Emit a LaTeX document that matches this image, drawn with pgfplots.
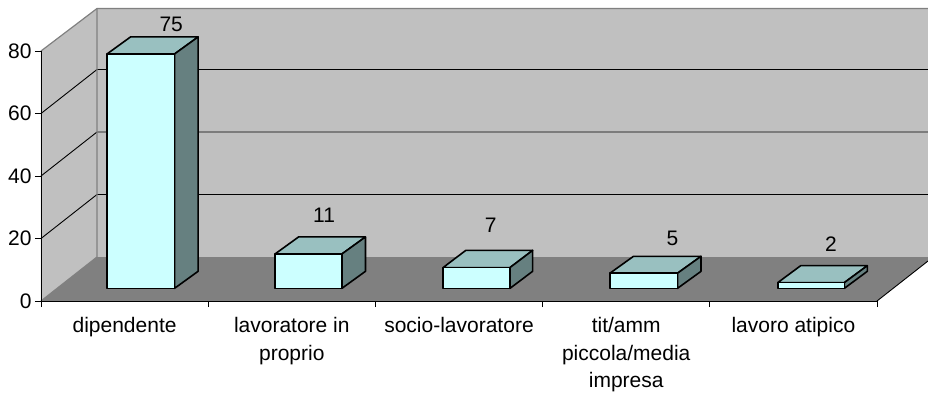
\documentclass[border=0pt]{standalone}
\usepackage{fontspec}
\setmainfont{Liberation Sans}
\usepackage{pgfplots}
\pgfplotsset{compat=1.18}

\definecolor{wall}{HTML}{C0C0C0}
\definecolor{floorc}{HTML}{808080}
\definecolor{front}{HTML}{CCFFFF}
\definecolor{topc}{HTML}{99C0C0}
\definecolor{sidec}{HTML}{668080}

% one 3D bar: x left, x right, x back left, x back right, y top, y back top
\newcommand{\barbox}[6]{
  \addplot[draw=black,line width=1.6pt,fill=topc,line join=round] coordinates {(#1,#5) (#3,#6) (#4,#6) (#2,#5)} --cycle;
  \addplot[draw=black,line width=1.6pt,fill=sidec,line join=round] coordinates {(#2,#5) (#4,#6) (#4,9.5) (#2,4.06)} --cycle;
  \addplot[draw=black,line width=1.6pt,fill=front,line join=round] coordinates {(#1,4.06) (#1,#5) (#2,#5) (#2,4.06)} --cycle;
}

\begin{document}
\begin{tikzpicture}
\path[use as bounding box] (-41pt,-93pt) rectangle (887pt,301pt);
\begin{axis}[
    at={(0pt,0pt)},
    anchor=south west,
    scale only axis,
    width=836pt,
    height=250pt,
    xmin=0, xmax=5,
    ymin=0, ymax=80,
    clip=false,
    axis on top,
    axis x line=bottom,
    axis y line=left,
    axis line style={-,black,line width=0.9pt},
    tick align=outside,
    major tick length=6pt,
    minor tick length=6pt,
    xtick={0.5,1.5,2.5,3.5,4.5},
    minor xtick={0,1,2,3,4,5},
    major x tick style={draw=none},
    minor x tick style={black,line width=0.9pt},
    y tick style={black,line width=0.9pt},
    ytick={0,20,40,60,80},
    xticklabels={dipendente,{lavoratore in\\proprio},socio-lavoratore,{tit/amm\\piccola/media\\impresa},lavoro atipico},
    xticklabel style={align=center,anchor=north,font=\fontsize{21}{27.5}\selectfont},
    x tick label style={yshift=-7pt},
    yticklabel style={font=\fontsize{21}{24}\selectfont},
    /pgf/number format/assume math mode=true,
]
% walls and floor
\addplot[draw=none,fill=wall] coordinates {(0,0) (0.335,14.08) (0.335,93.6) (0,80)} --cycle;
\addplot[draw=none,fill=wall] coordinates {(0.335,14.08) (5.305,14.08) (5.305,93.6) (0.335,93.6)} --cycle;
\addplot[draw=none,fill=floorc] coordinates {(0,0) (0.335,14.08) (5.305,14.08) (5.305,12.8) (5,0)} --cycle;
% grid lines
\addplot[black,line width=0.9pt] coordinates {(0,20) (0.335,34.08) (5.305,34.08)};
\addplot[black,line width=0.9pt] coordinates {(0,40) (0.335,54.08) (5.305,54.08)};
\addplot[black,line width=0.9pt] coordinates {(0,60) (0.335,74.08) (5.305,74.08)};
% wall edges
\addplot[floorc,line width=1.2pt] coordinates {(0,80) (0.335,93.6) (5.305,93.6)};
\addplot[floorc,line width=1.2pt] coordinates {(0.335,93.6) (0.335,14.08) (0,0)};
\addplot[black,line width=0.9pt] coordinates {(5,0) (5.305,12.8)};
% bars
\barbox{0.395}{0.799}{0.5355}{0.9395}{79.06}{84.5}
\barbox{1.400}{1.800}{1.5405}{1.9405}{15.06}{20.5}
\barbox{2.405}{2.805}{2.5405}{2.9405}{10.7}{16.2}
\barbox{3.403}{3.807}{3.5435}{3.9475}{8.9}{14.3}
\barbox{4.407}{4.805}{4.5435}{4.9420}{5.9}{11.3}
% value labels
\addplot[draw=none,mark=none,point meta=explicit symbolic,nodes near coords,
  nodes near coords style={anchor=center,font=\fontsize{21}{24}\selectfont}]
  coordinates {(0.779,88.48)[75] (1.693,27.42)[11] (2.690,24.32)[7] (3.776,20.06)[5] (4.725,18.24)[2]};
\end{axis}
\end{tikzpicture}
\end{document}
